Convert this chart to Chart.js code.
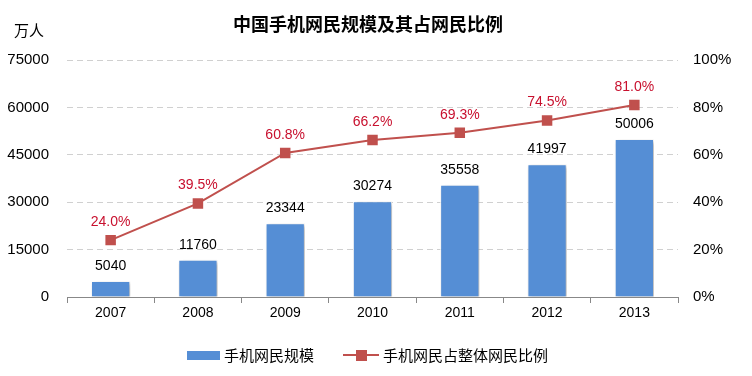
<!DOCTYPE html>
<html>
<head>
<meta charset="utf-8">
<script src="https://cdn.jsdelivr.net/npm/chart.js@4"></script>
<style>
  html, body { margin: 0; padding: 0; background: #fff; }
  #wrap { width: 752px; height: 376px; }
</style>
</head>
<body>
<div id="wrap"><canvas id="myChart" width="752" height="376"></canvas></div>
<script>
var years = ['2007', '2008', '2009', '2010', '2011', '2012', '2013'];
var mobileUsers = [5040, 11760, 23344, 30274, 35558, 41997, 50006];
var mobileShare = [24.0, 39.5, 60.8, 66.2, 69.3, 74.5, 81.0];
var leftTicks = [0, 15000, 30000, 45000, 60000, 75000];
var rightTicks = [0, 20, 40, 60, 80, 100];

var FONT = '"Liberation Sans", Arial, "Noto Sans CJK SC", sans-serif';
var BLUE = '#558ed5';
var RED = '#c0504d';

// shadow on bars, labels, title, legend
var extras = {
  id: 'extras',
  beforeDatasetDraw: function (chart, args) {
    if (args.index === 0) {
      var c = chart.ctx;
      c.save();
      c.shadowColor = 'rgba(0,0,0,0.3)';
      c.shadowBlur = 4;
      c.shadowOffsetX = 2;
      c.shadowOffsetY = 2;
    }
  },
  afterDatasetDraw: function (chart, args) {
    if (args.index === 0) chart.ctx.restore();
  },
  afterDraw: function (chart) {
    var c = chart.ctx;
    c.save();
    c.textAlign = 'center';
    c.textBaseline = 'alphabetic';

    // title
    c.fillStyle = '#000';
    c.font = 'bold 18px "Noto Sans CJK SC", sans-serif';
    c.fillText('中国手机网民规模及其占网民比例', 368, 31);

    // unit
    c.font = '15px "Noto Sans CJK SC", sans-serif';
    c.fillText('万人', 29, 36);

    // bar labels
    var m0 = chart.getDatasetMeta(0);
    c.font = '14px ' + FONT;
    c.fillStyle = '#000';
    m0.data.forEach(function (el, i) {
      c.fillText(String(mobileUsers[i]), el.x, el.y - 11);
    });

    // line labels
    var m1 = chart.getDatasetMeta(1);
    c.fillStyle = '#c8102e';
    m1.data.forEach(function (el, i) {
      c.fillText(mobileShare[i].toFixed(1) + '%', el.x, el.y - 14);
    });

    // legend
    c.fillStyle = BLUE;
    c.fillRect(187, 351, 33, 9);
    c.fillStyle = '#000';
    c.textAlign = 'left';
    c.textBaseline = 'middle';
    c.font = '15px "Noto Sans CJK SC", sans-serif';
    c.fillText('手机网民规模', 224, 355);
    c.strokeStyle = RED;
    c.lineWidth = 2;
    c.beginPath();
    c.moveTo(343, 355);
    c.lineTo(379, 355);
    c.stroke();
    c.fillStyle = RED;
    c.fillRect(356, 350, 11, 11);
    c.fillStyle = '#000';
    c.fillText('手机网民占整体网民比例', 383, 355);
    c.restore();
  }
};

var ctx = document.getElementById('myChart').getContext('2d');
var myChart = new Chart(ctx, {
  type: 'bar',
  data: {
    labels: years,
    datasets: [{
      label: '手机网民规模',
      data: mobileUsers,
      backgroundColor: BLUE,
      borderColor: '#ffffff',
      borderWidth: 1,
      barPercentage: 0.9,
      categoryPercentage: 0.5,
      yAxisID: 'y',
      order: 2
    },
    {
      type: 'line',
      label: '手机网民占整体网民比例',
      data: mobileShare,
      borderColor: RED,
      borderWidth: 2,
      pointStyle: 'rect',
      pointRadius: 6,
      pointBackgroundColor: RED,
      pointBorderColor: RED,
      yAxisID: 'y1',
      order: 1
    }]
  },
  options: {
    responsive: false,
    animation: false,
    layout: { padding: { top: 60, bottom: 0, left: 0, right: 0 } },
    plugins: {
      legend: { display: false },
      title: { display: false },
      tooltip: { enabled: false }
    },
    scales: {
      x: {
        grid: {
          offset: true,
          drawOnChartArea: false,
          drawTicks: true,
          tickLength: 6,
          color: '#888'
        },
        border: { color: '#888', width: 1 },
        ticks: { color: '#000', font: { family: FONT, size: 14 }, padding: 2 },
        afterFit: function (s) { s.height = 79; }
      },
      y: {
        position: 'left',
        min: 0,
        max: 75000,
        afterBuildTicks: function (s) { s.ticks = leftTicks.map(function (v) { return { value: v }; }); },
        grid: { color: '#d0d0d0', drawTicks: false },
        border: { display: false, dash: [6, 4] },
        ticks: {
          color: '#000',
          font: { family: FONT, size: 15 },
          padding: 18,
          callback: function (v) { return String(v); }
        },
        afterFit: function (s) { s.width = 67; }
      },
      y1: {
        position: 'right',
        min: 0,
        max: 100,
        afterBuildTicks: function (s) { s.ticks = rightTicks.map(function (v) { return { value: v }; }); },
        grid: { drawOnChartArea: false, drawTicks: false },
        border: { display: false },
        ticks: {
          color: '#000',
          font: { family: FONT, size: 15 },
          padding: 15,
          callback: function (v) { return v + '%'; }
        },
        afterFit: function (s) { s.width = 74; }
      }
    }
  },
  plugins: [extras]
});
</script>
</body>
</html>
